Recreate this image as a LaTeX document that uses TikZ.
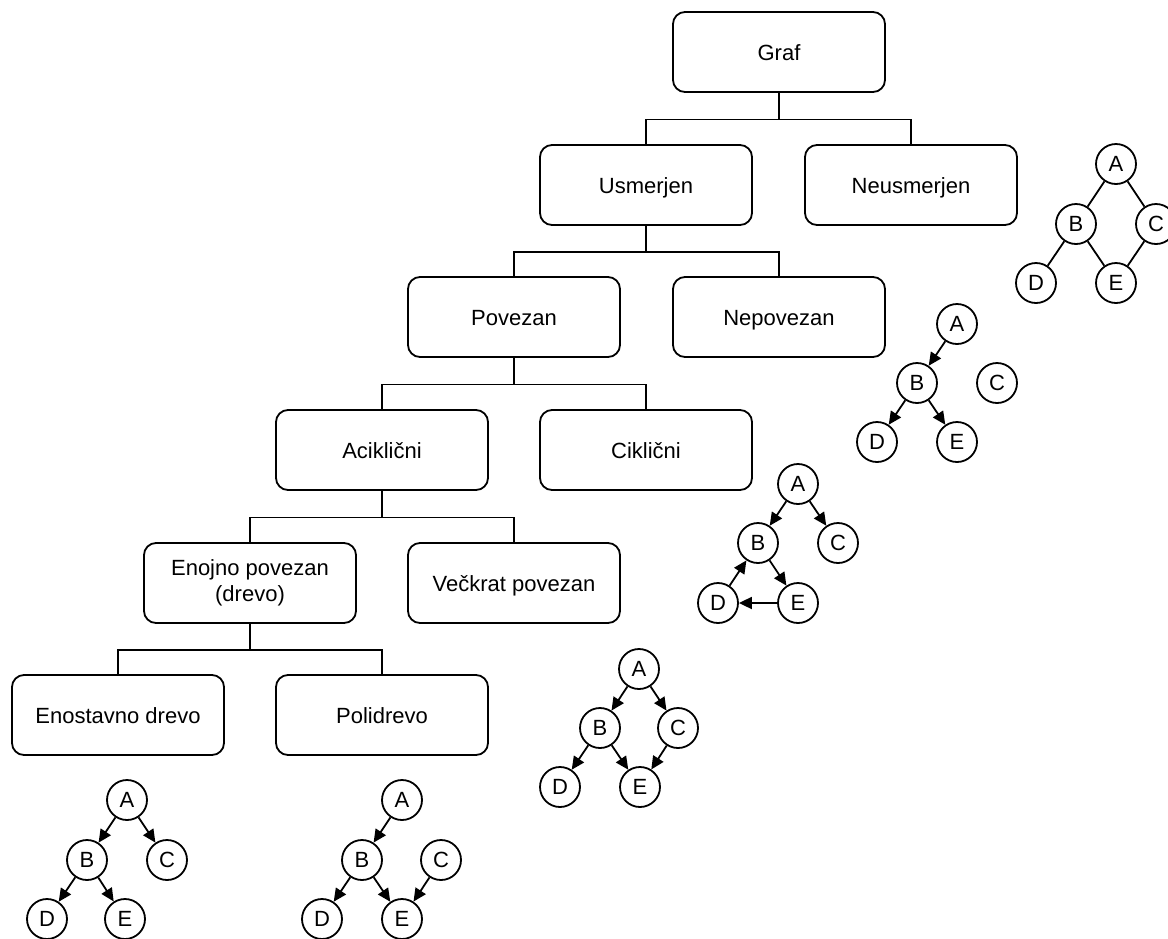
\documentclass[tikz,border=0pt]{standalone}
\usepackage{fontspec}
\setmainfont{Liberation Sans}
\usetikzlibrary{arrows.meta}
\begin{document}
\begin{tikzpicture}[x=1pt,y=-1pt,
  box/.style={draw, line width=1.8pt, rounded corners=12pt, minimum width=212pt, minimum height=80pt, align=center, text height=16pt, text depth=0pt, font=\fontsize{22}{26}\selectfont},
  conn/.style={line width=1.8pt},
  vert/.style={draw, circle, line width=1.8pt, minimum size=40pt, inner sep=0pt, font=\fontsize{22}{26}\selectfont},
  edge/.style={line width=1.8pt},
  arr/.style={line width=1.8pt, -{Triangle[length=13pt,width=12pt]}}]
\path[use as bounding box] (0,0) rectangle (1168,938);
% tree boxes
\node[box] (graf) at (779,52) {Graf};
\node[box] (us) at (646,185) {Usmerjen};
\node[box] (neu) at (911,185) {Neusmerjen};
\node[box] (pov) at (514,317) {Povezan};
\node[box] (nep) at (779,317) {Nepovezan};
\node[box] (aci) at (382,450) {Aciklični};
\node[box] (cik) at (646,450) {Ciklični};
\node[box, text height=, text depth=] (eno) at (250,583) {Enojno povezan\\(drevo)};
\node[box] (vec) at (514,583) {Večkrat povezan};
\node[box] (ens) at (118,715) {Enostavno drevo};
\node[box] (pol) at (382,715) {Polidrevo};
% connectors
\draw[conn] (graf.south) -- ++(0,26.5) coordinate (j1);
\draw[conn] (us.north) |- (j1) -| (neu.north);
\draw[conn] (us.south) -- ++(0,26) coordinate (j2);
\draw[conn] (pov.north) |- (j2) -| (nep.north);
\draw[conn] (pov.south) -- ++(0,26.5) coordinate (j3);
\draw[conn] (aci.north) |- (j3) -| (cik.north);
\draw[conn] (aci.south) -- ++(0,26.5) coordinate (j4);
\draw[conn] (eno.north) |- (j4) -| (vec.north);
\draw[conn] (eno.south) -- ++(0,26) coordinate (j5);
\draw[conn] (ens.north) |- (j5) -| (pol.north);
% graph 1: undirected
\node[vert] (a1) at (1116,164) {A};
\node[vert] (b1) at (1076,224) {B};
\node[vert] (c1) at (1156,224) {C};
\node[vert] (d1) at (1036,283) {D};
\node[vert] (e1) at (1116,283) {E};
\draw[edge] (a1) -- (b1);
\draw[edge] (a1) -- (c1);
\draw[edge] (b1) -- (d1);
\draw[edge] (b1) -- (e1);
\draw[edge] (c1) -- (e1);
% graph 2: disconnected
\node[vert] (a2) at (957,324) {A};
\node[vert] (b2) at (917,383) {B};
\node[vert] (c2) at (997,383) {C};
\node[vert] (d2) at (877,442) {D};
\node[vert] (e2) at (957,442) {E};
\draw[arr] (a2) -- (b2);
\draw[arr] (b2) -- (d2);
\draw[arr] (b2) -- (e2);
% graph 3: cyclic
\node[vert] (a3) at (798,484) {A};
\node[vert] (b3) at (758,543) {B};
\node[vert] (c3) at (838,543) {C};
\node[vert] (d3) at (718,603) {D};
\node[vert] (e3) at (798,603) {E};
\draw[arr] (a3) -- (b3);
\draw[arr] (a3) -- (c3);
\draw[arr] (b3) -- (e3);
\draw[arr] (e3) -- (d3);
\draw[arr] (d3) -- (b3);
% graph 4: multiply connected
\node[vert] (a4) at (639,669) {A};
\node[vert] (b4) at (600,728) {B};
\node[vert] (c4) at (678,728) {C};
\node[vert] (d4) at (560,787) {D};
\node[vert] (e4) at (640,787) {E};
\draw[arr] (a4) -- (b4);
\draw[arr] (a4) -- (c4);
\draw[arr] (b4) -- (d4);
\draw[arr] (b4) -- (e4);
\draw[arr] (c4) -- (e4);
% graph 5: simple tree
\node[vert] (a5) at (127,800) {A};
\node[vert] (b5) at (87,860) {B};
\node[vert] (c5) at (167,860) {C};
\node[vert] (d5) at (47,919) {D};
\node[vert] (e5) at (125,919) {E};
\draw[arr] (a5) -- (b5);
\draw[arr] (a5) -- (c5);
\draw[arr] (b5) -- (d5);
\draw[arr] (b5) -- (e5);
% graph 6: polytree
\node[vert] (a6) at (402,800) {A};
\node[vert] (b6) at (362,860) {B};
\node[vert] (c6) at (441,860) {C};
\node[vert] (d6) at (322,919) {D};
\node[vert] (e6) at (402,919) {E};
\draw[arr] (a6) -- (b6);
\draw[arr] (b6) -- (d6);
\draw[arr] (b6) -- (e6);
\draw[arr] (c6) -- (e6);
\end{tikzpicture}
\end{document}
